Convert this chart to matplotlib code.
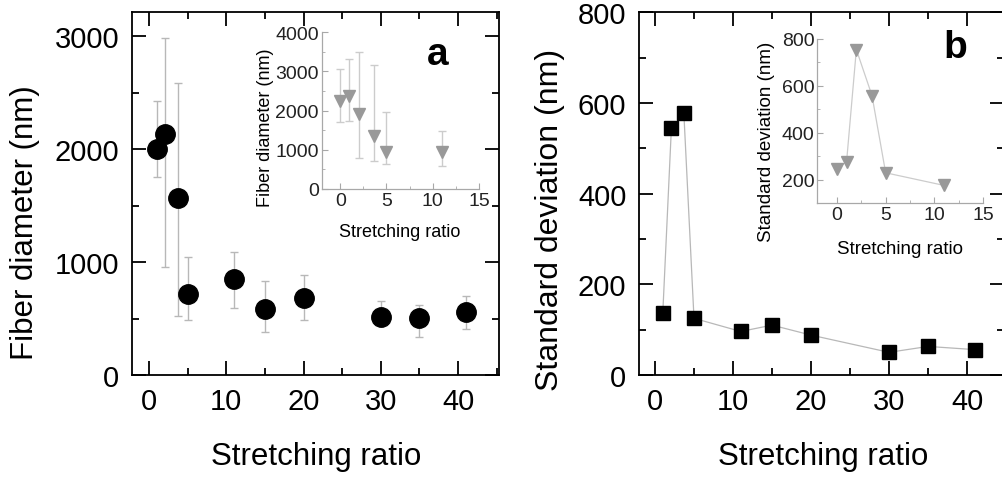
import numpy as np
import matplotlib
matplotlib.use("Agg")
import matplotlib.pyplot as plt
from matplotlib.ticker import MultipleLocator

plt.rcParams['font.family'] = ['Liberation Sans', 'DejaVu Sans']

# main data (panel a and b share stretching ratios)
ratio = [1, 2.1, 3.7, 5, 11, 15, 20, 30, 35, 41]
diam = [1998, 2137, 1568, 716, 849, 584, 684, 516, 501, 554]
diam_top = [2426, 2983, 2588, 1046, 1090, 831, 884, 654, 619, 701]
diam_bot = [1748, 958, 525, 486, 595, 383, 486, 440, 333, 404]
std = [137, 544, 577, 125, 96, 110, 88, 50, 63, 56]

# inset data
ratio_in = [0, 1, 2, 3.6, 5, 11]
diam_in = [2255, 2383, 1915, 1345, 953, 953]
diam_in_top = [3064, 3319, 3489, 3166, 1957, 1472]
diam_in_bot = [1702, 1745, 783, 723, 638, 579]
std_in = [247, 278, 755, 559, 230, 176]

W, H = 1003, 481
fig = plt.figure(figsize=(W / 100, H / 100), dpi=100)


def px(x0, y0, x1, y1):
    return [x0 / W, 1 - y1 / H, (x1 - x0) / W, (y1 - y0) / H]


def style_main(ax):
    for s in ax.spines.values():
        s.set_linewidth(1.3)
    ax.tick_params(which='both', direction='in', top=True, right=True,
                   width=1.3, labelsize=21, pad=9)
    ax.tick_params(which='major', length=10)
    ax.tick_params(which='minor', length=5)


def style_inset(ax):
    for s in ['top', 'right']:
        ax.spines[s].set_visible(False)
    for s in ['left', 'bottom']:
        ax.spines[s].set_color('#a8a8a8')
        ax.spines[s].set_linewidth(0.9)
    ax.tick_params(which='both', direction='in', color='#a8a8a8',
                   labelsize=14, pad=2, labelcolor='#222222')
    ax.tick_params(which='major', length=4)
    ax.tick_params(which='minor', length=2)
    ax.patch.set_alpha(0)


# ---- panel a ----
ax1 = fig.add_axes(px(131.7, 13.3, 499, 376))
d = np.array(diam)
yerr = [d - np.array(diam_bot), np.array(diam_top) - d]
ax1.errorbar(ratio, diam, yerr=yerr, fmt='none', ecolor='#b8b8b8',
             elinewidth=1, capsize=3, capthick=1, zorder=1)
ax1.plot(ratio, diam, 'o', color='black', markersize=14, zorder=2)
ax1.set_xlim(-2.24, 45.3)
ax1.set_ylim(0, 3210)
ax1.xaxis.set_major_locator(MultipleLocator(10))
ax1.xaxis.set_minor_locator(MultipleLocator(5))
ax1.yaxis.set_major_locator(MultipleLocator(1000))
ax1.yaxis.set_minor_locator(MultipleLocator(500))
style_main(ax1)
fig.text(25 / W, 1 - 223 / H, 'Fiber diameter (nm)', rotation=90,
         ha='center', va='center', fontsize=22.5)
fig.text(316 / W, 1 - 457 / H, 'Stretching ratio', ha='center',
         va='center', fontsize=22.5)
fig.text(438 / W, 1 - 55 / H, 'a', ha='center', va='center',
         fontsize=28, fontweight='bold')

ins1 = fig.add_axes(px(321.7, 33.3, 479, 190))
di = np.array(diam_in)
yerr_in = [di - np.array(diam_in_bot), np.array(diam_in_top) - di]
ins1.errorbar(ratio_in, diam_in, yerr=yerr_in, fmt='none', ecolor='#cccccc',
              elinewidth=1, capsize=3, capthick=1, zorder=1)
ins1.plot(ratio_in, diam_in, 'v', color='#999999', markersize=8.5, zorder=2)
ins1.set_xlim(-2, 15)
ins1.set_ylim(0, 4000)
ins1.xaxis.set_major_locator(MultipleLocator(5))
ins1.xaxis.set_minor_locator(MultipleLocator(2.5))
ins1.yaxis.set_major_locator(MultipleLocator(1000))
ins1.yaxis.set_minor_locator(MultipleLocator(500))
style_inset(ins1)
fig.text(400 / W, 1 - 233 / H, 'Stretching ratio', ha='center',
         va='center', fontsize=13)
fig.text(265 / W, 1 - 127.5 / H, 'Fiber diameter (nm)', rotation=90,
         ha='center', va='center', fontsize=13)

# ---- panel b ----
ax2 = fig.add_axes(px(639, 13.3, 1004.5, 376))
ax2.plot(ratio, std, '-', color='#b8b8b8', linewidth=0.9, zorder=1)
ax2.plot(ratio, std, 's', color='black', markersize=10, zorder=2)
ax2.set_xlim(-2.05, 44.8)
ax2.set_ylim(0, 800)
ax2.xaxis.set_major_locator(MultipleLocator(10))
ax2.xaxis.set_minor_locator(MultipleLocator(5))
ax2.yaxis.set_major_locator(MultipleLocator(200))
ax2.yaxis.set_minor_locator(MultipleLocator(100))
style_main(ax2)
fig.text(550 / W, 1 - 220 / H, 'Standard deviation (nm)', rotation=90,
         ha='center', va='center', fontsize=23)
fig.text(823 / W, 1 - 457 / H, 'Stretching ratio', ha='center',
         va='center', fontsize=22.5)
fig.text(955 / W, 1 - 48 / H, 'b', ha='center', va='center',
         fontsize=28, fontweight='bold')

ins2 = fig.add_axes(px(817.3, 40, 983.3, 204.3))
ins2.plot(ratio_in, std_in, '-', color='#cccccc', linewidth=0.9, zorder=1)
ins2.plot(ratio_in, std_in, 'v', color='#999999', markersize=8.5, zorder=2)
ins2.set_xlim(-2, 15)
ins2.set_ylim(100, 800)
ins2.xaxis.set_major_locator(MultipleLocator(5))
ins2.xaxis.set_minor_locator(MultipleLocator(2.5))
ins2.yaxis.set_major_locator(MultipleLocator(200))
ins2.yaxis.set_minor_locator(MultipleLocator(100))
style_inset(ins2)
fig.text(900 / W, 1 - 250 / H, 'Stretching ratio', ha='center',
         va='center', fontsize=13.5)
fig.text(767 / W, 1 - 142 / H, 'Standard deviation (nm)', rotation=90,
         ha='center', va='center', fontsize=13.5)

fig.savefig('out.png', dpi=100)
